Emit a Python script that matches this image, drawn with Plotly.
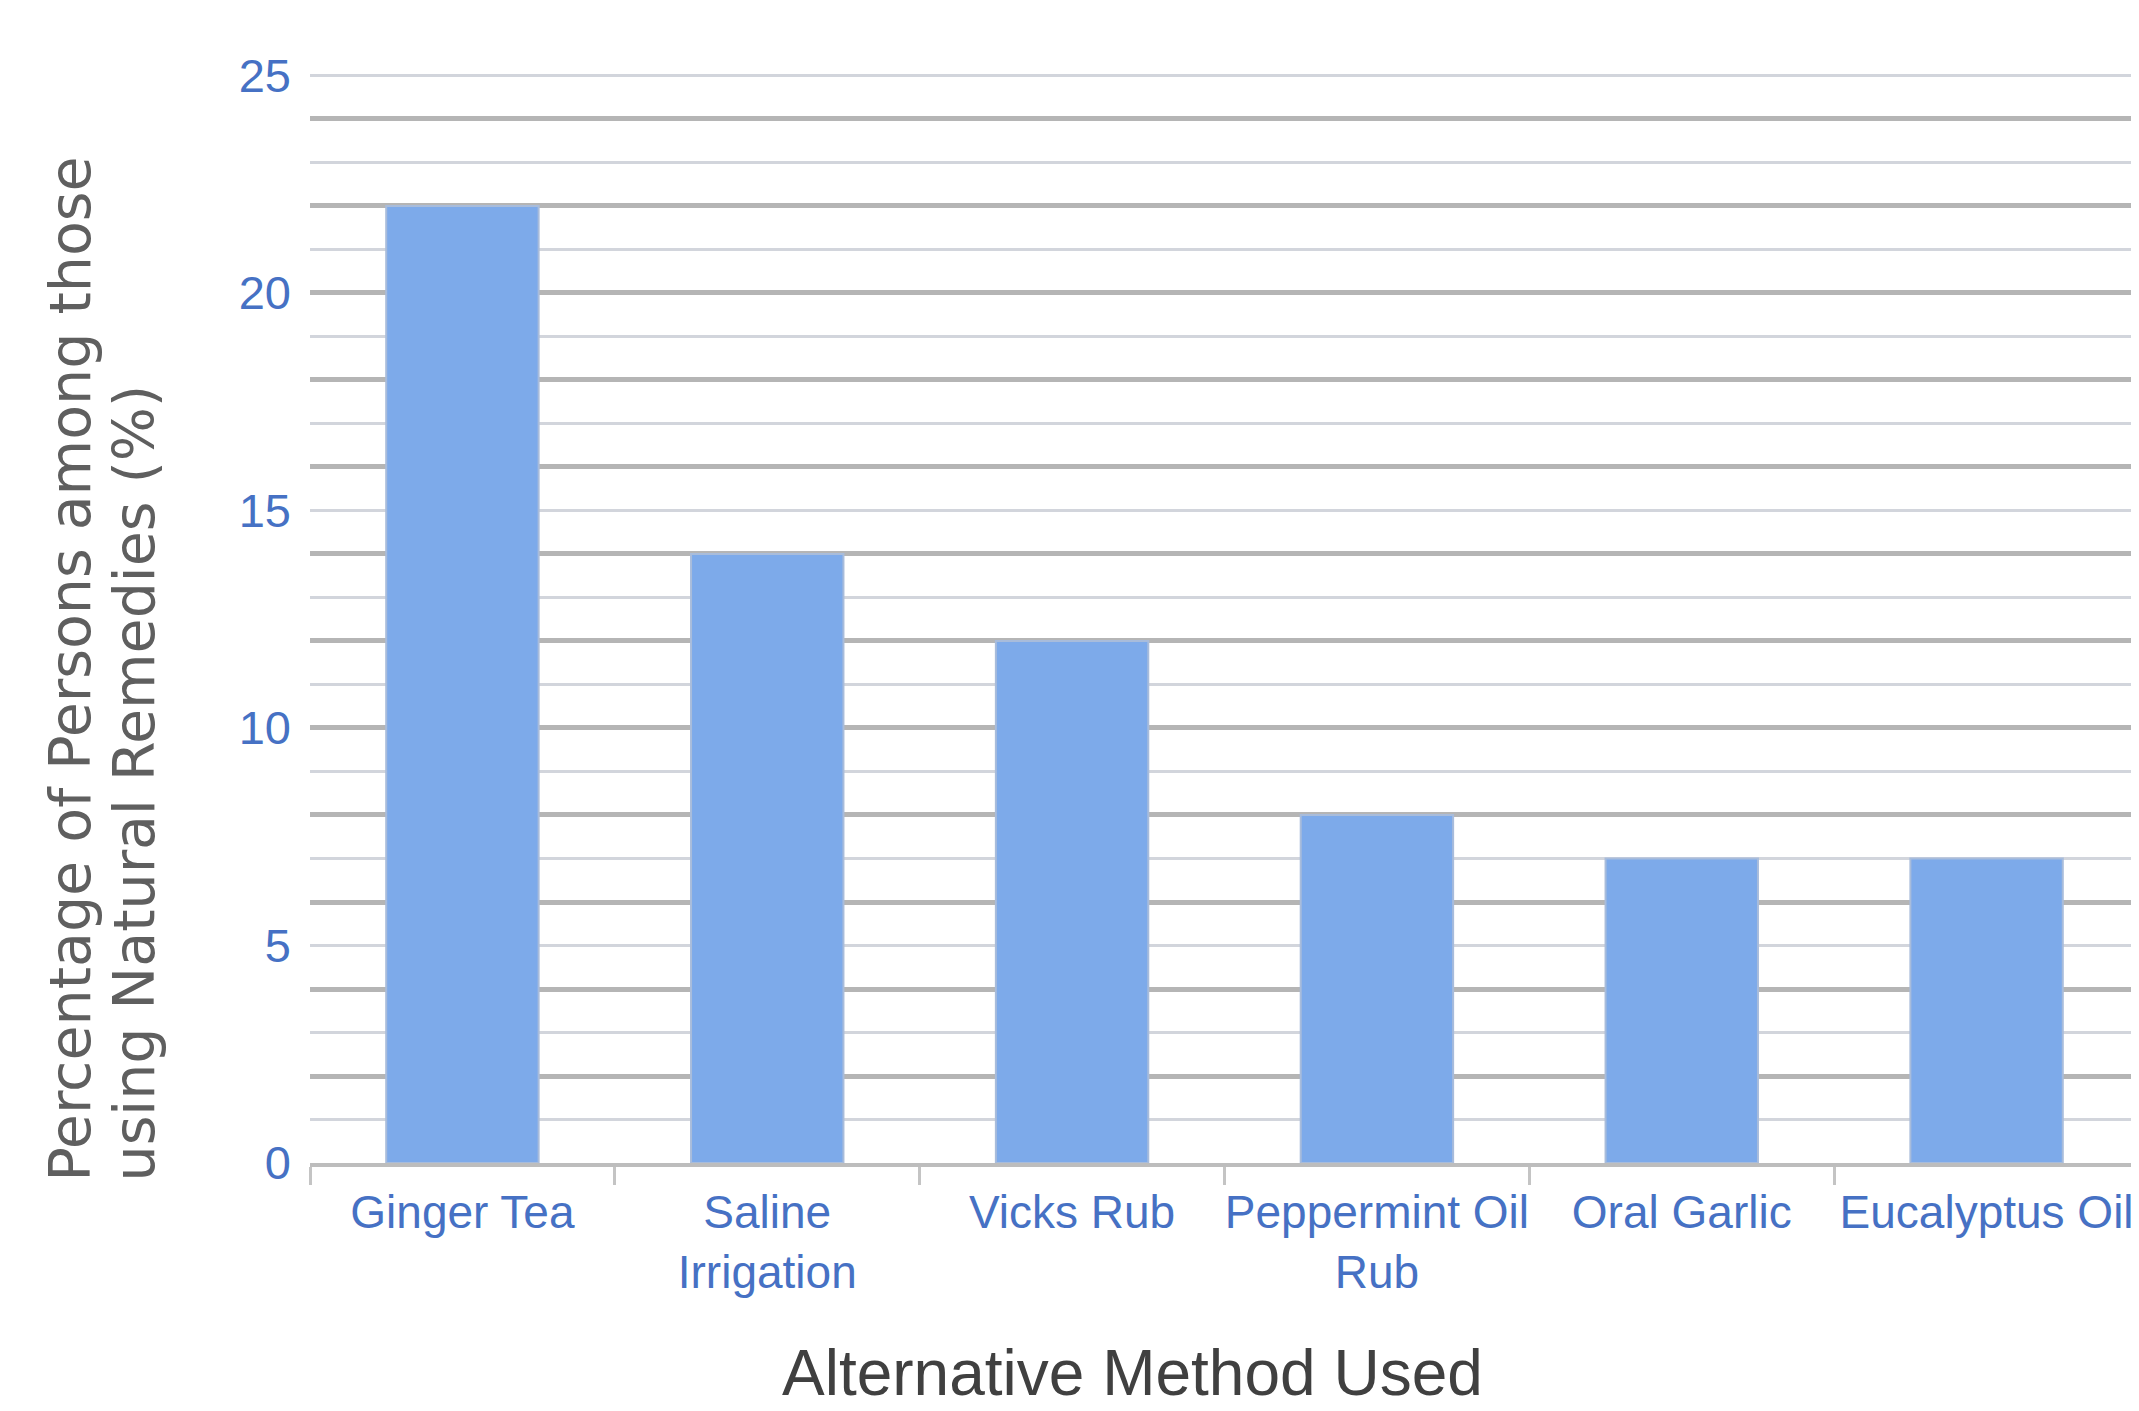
import plotly.graph_objects as go

categories = ["Ginger Tea", "Saline<br>Irrigation", "Vicks Rub", "Peppermint Oil<br>Rub", "Oral Garlic", "Eucalyptus Oil"]
values = [22, 14, 12, 8, 7, 7]
y_tickvals = [0, 5, 10, 15, 20, 25]
y_title_lines = ["Percentage of Persons among those", "using Natural Remedies (%)"]
x_title = "Alternative Method Used"

# page body has an 8px default margin; compensate so page coords match target
OFF = 8
W, H = 2139 - OFF, 1411 - OFF
Y_TOP = 25.08
UNIT = 43.52
plot_top_px = 75 - (Y_TOP - 25) * UNIT  # page px
plot_bot_px = 1163
plot_left_px = 310
ML = plot_left_px - OFF
MT = plot_top_px - OFF
MB = (1411 - plot_bot_px)
MR = 0
plot_w = 2139 - plot_left_px
plot_h = plot_bot_px - plot_top_px


def px_x(px):
    return (px - plot_left_px) / plot_w


def px_y(py):
    return (plot_bot_px - py) / plot_h


fig = go.Figure()
fig.add_trace(go.Bar(
    x=categories, y=values,
    marker=dict(color="#7DAAEA", line=dict(color="#A8BCDB", width=2)),
    hoverinfo="x+y",
))
# helper trace on overlay axis so its (darker) gridlines are drawn
fig.add_trace(go.Scatter(
    x=categories, y=values, yaxis="y2", mode="markers",
    marker=dict(opacity=0), hoverinfo="skip", showlegend=False,
))

annotations = []
for line, cx in zip(y_title_lines, [70, 134]):
    annotations.append(dict(
        text=line, xref="paper", yref="paper",
        x=px_x(cx), y=px_y(1184),
        xanchor="center", yanchor="bottom", textangle=-90,
        showarrow=False,
        font=dict(family="DejaVu Sans", size=57, color="#5F5F5F"),
    ))
annotations.append(dict(
    text=x_title, xref="paper", yref="paper",
    x=px_x(1132), y=px_y(1373),
    xanchor="center", yanchor="middle", showarrow=False,
    font=dict(family="Liberation Sans", size=64, color="#404040"),
))

fig.update_layout(
    width=W, height=H,
    margin=dict(l=ML, r=MR, t=MT, b=MB),
    paper_bgcolor="white", plot_bgcolor="white",
    showlegend=False,
    bargap=0.5,
    xaxis=dict(
        type="category", range=[-0.5, 5.5], automargin=False,
        showgrid=False, showline=True, linecolor="#BDBDBD", linewidth=4,
        ticks="outside", tickson="boundaries", ticklen=18, tickwidth=3, tickcolor="#C4C4C4",
        tickangle=0,
        tickfont=dict(family="Liberation Sans", size=46, color="#4671C4"),
        ticklabelstandoff=6,
    ),
    yaxis=dict(
        range=[0, Y_TOP], tickvals=y_tickvals, automargin=False,
        showgrid=True, gridcolor="#D2D5DC", gridwidth=3,
        zeroline=False, showline=False, ticks="",
        minor=dict(dtick=1, showgrid=True, gridcolor="#D2D5DC", gridwidth=3),
        tickfont=dict(family="Liberation Sans", size=47, color="#4671C4"),
        ticklabelstandoff=18,
    ),
    yaxis2=dict(
        range=[0, Y_TOP], overlaying="y", side="left", dtick=2, automargin=False,
        showgrid=True, gridcolor="#B5B5B5", gridwidth=5,
        zeroline=False, showline=False, ticks="", showticklabels=False,
    ),
    annotations=annotations,
)

fig.write_html("out.html")
